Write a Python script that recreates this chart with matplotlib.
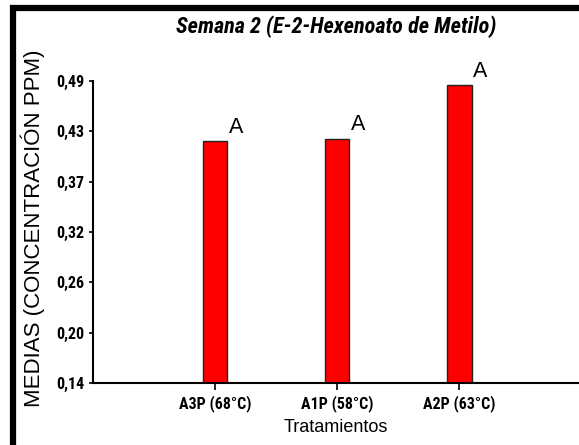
import matplotlib
matplotlib.use("Agg")
import matplotlib.pyplot as plt
from matplotlib import font_manager
from matplotlib.patches import Rectangle
import numpy as np

# Mean concentration per treatment (week 2, methyl E-2-hexenoate)
tratamientos = ["A3P (68°C)", "A1P (58°C)", "A2P (63°C)"]
medias = [0.420, 0.423, 0.485]
letras = ["A", "A", "A"]
y_ticks = [0.14, 0.20, 0.26, 0.32, 0.37, 0.43, 0.49]

# pick a narrow family that ships a bold face
bold_fams = {f.name for f in font_manager.fontManager.ttflist if f.weight in (700, "bold")}
narrow = "Liberation Sans"
for cand in ["Archivo Narrow", "Roboto Condensed", "Liberation Sans Narrow"]:
    if cand in bold_fams:
        narrow = cand
        break
regular = "Liberation Sans"

W, H = 579, 445
fig = plt.figure(figsize=(W / 100, H / 100), dpi=100)

# thick outer frame (open to the right and bottom)
fig.patches.append(Rectangle((13 / W, -0.1), 1.2, (H - 7.5) / H + 0.1,
                             transform=fig.transFigure, fill=False,
                             edgecolor="black", linewidth=4.5, zorder=0))

ax = fig.add_axes([93 / W, (H - 383) / H, (W - 93) / W, (383 - 81) / H])

x = np.arange(1, len(tratamientos) + 1)
ax.bar(x, medias, width=0.2, bottom=0, color="#ff0000",
       edgecolor="#222222", linewidth=1.0, zorder=2)

for xi, m, l in zip(x, medias, letras):
    ax.text(xi + 0.11, m + 0.004, l, fontsize=15.5, family=regular,
            ha="left", va="bottom", clip_on=False)

ax.set_xlim(0, 3.98)
ax.set_ylim(0.14, 0.49)
ax.set_yticks(np.linspace(0.14, 0.49, 7))
ax.set_yticklabels([f"{v:.2f}".replace(".", ",") for v in y_ticks],
                   family=narrow, fontweight="bold", fontsize=11.5)
ax.set_xticks(x)
ax.set_xticklabels(tratamientos, family=narrow, fontweight="bold", fontsize=11.5)

for side in ["top", "right"]:
    ax.spines[side].set_visible(False)
for side in ["left", "bottom"]:
    ax.spines[side].set_linewidth(1.5)
ax.tick_params(axis="y", direction="out", length=3, width=1.2, pad=3)
ax.tick_params(axis="x", direction="out", length=5, width=1.2, pad=4)

ax.set_xlabel("Tratamientos", family=regular, fontsize=13, labelpad=5)
fig.text(33 / W, 1 - 228 / H, "MEDIAS (CONCENTRACIÓN PPM)", rotation=90,
         family=regular, fontsize=16, ha="center", va="center")
fig.text(336 / W, 1 - 33 / H, "Semana 2 (E-2-Hexenoato de Metilo)",
         family=narrow, fontweight="bold", style="italic", fontsize=16,
         ha="center", va="baseline")

fig.savefig("out.png", dpi=100)
